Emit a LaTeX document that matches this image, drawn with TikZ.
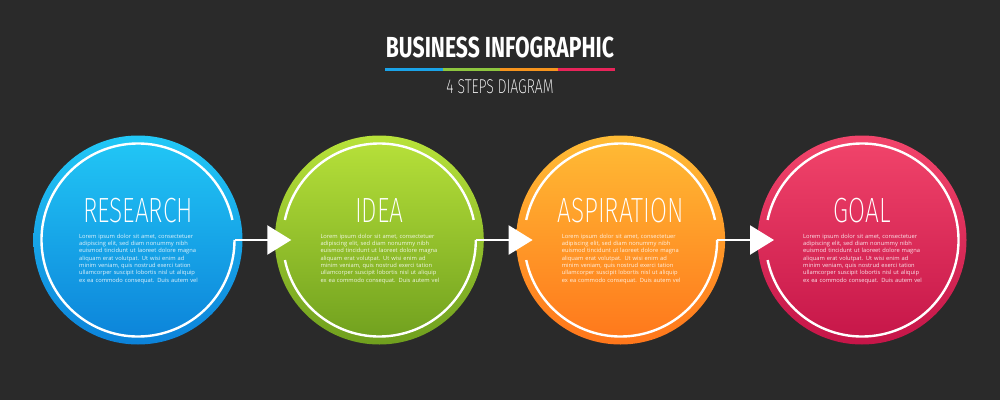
\documentclass[tikz,border=0pt]{standalone}
\usepackage{fontspec}
\setmainfont{Open Sans}
\newfontfamily\titlefont[FakeStretch=0.73]{Fira Sans}
\newfontfamily\thinfont[FakeStretch=0.70]{Fira Sans ExtraLight}
\usetikzlibrary{arrows.meta}
\definecolor{bg}{HTML}{2A2A2A}
\definecolor{blueT}{HTML}{22C8F6}
\definecolor{blueB}{HTML}{0C82D9}
\definecolor{greenT}{HTML}{B8E23A}
\definecolor{greenB}{HTML}{6F9F1E}
\definecolor{orangeT}{HTML}{FFBC35}
\definecolor{orangeB}{HTML}{FF761B}
\definecolor{redT}{HTML}{F2456B}
\definecolor{redB}{HTML}{C51548}
\definecolor{lineBlue}{HTML}{1AA3E8}
\definecolor{lineGreen}{HTML}{8DC63F}
\definecolor{lineOrange}{HTML}{F7941D}
\definecolor{lineRed}{HTML}{E8245A}
\begin{document}
\begin{tikzpicture}[x=1pt,y=1pt,
  stepcircle/.style={circle, minimum size=209pt, inner sep=0pt, draw=none},
  ring/.style={draw=white, line width=2.4pt},
  conn/.style={ring, -{Triangle[length=24pt,width=29pt]}},
  head/.style={text=white, font=\thinfont\fontsize{35}{35}\selectfont, inner sep=0pt, anchor=base},
  body/.style={text=white, opacity=0.88, font=\fontsize{5.75}{7.35}\selectfont, text width=125pt, align=left, inner sep=0pt, anchor=north west},
  uline/.style={line width=3pt}
]
\fill[bg] (0,0) rectangle (1000,400);
\useasboundingbox (0,0) rectangle (1000,400);

% title
\node[text=white, font=\titlefont\bfseries\fontsize{29}{29}\selectfont, inner sep=0pt, anchor=base] (title) at (500,342) {BUSINESS INFOGRAPHIC};
\draw[uline, lineBlue] (385,331) -- (442.5,331);
\draw[uline, lineGreen] (442.5,331) -- (500,331);
\draw[uline, lineOrange] (500,331) -- (557.5,331);
\draw[uline, lineRed] (557.5,331) -- (615,331);
\node[text=white, font=\thinfont\fontsize{20}{20}\selectfont, inner sep=0pt, anchor=base] (subtitle) at (500,307) {4 STEPS DIAGRAM};

% circles
\node[stepcircle, top color=blueT, bottom color=blueB] (c1) at (138,160) {};
\node[stepcircle, top color=greenT, bottom color=greenB] (c2) at (379.3,160) {};
\node[stepcircle, top color=orangeT, bottom color=orangeB] (c3) at (620.6,160) {};
\node[stepcircle, top color=redT, bottom color=redB] (c4) at (862,160) {};

% rings
\draw[ring] ([shift={(12:96.5)}]c1.center) arc[start angle=12, end angle=360, radius=96.5];
\draw[ring] ([shift={(12:96.5)}]c2.center) arc[start angle=12, end angle=168, radius=96.5];
\draw[ring] ([shift={(192:96.5)}]c2.center) arc[start angle=192, end angle=360, radius=96.5];
\draw[ring] ([shift={(12:96.5)}]c3.center) arc[start angle=12, end angle=168, radius=96.5];
\draw[ring] ([shift={(192:96.5)}]c3.center) arc[start angle=192, end angle=360, radius=96.5];
\draw[ring] ([shift={(192:96.5)}]c4.center) arc[start angle=192, end angle=528, radius=96.5];

% connectors
\draw[conn] ([shift={(0:96.5)}]c1.center) -- ([xshift=-88pt]c2.center);
\draw[conn] ([shift={(0:96.5)}]c2.center) -- ([xshift=-88pt]c3.center);
\draw[conn] ([shift={(0:96.5)}]c3.center) -- ([xshift=-88pt]c4.center);

% headings
\node[head] (h1) at (138,178) {RESEARCH};
\node[head] (h2) at (379.3,178) {IDEA};
\node[head] (h3) at (620.6,178) {ASPIRATION};
\node[head] (h4) at (862,178) {GOAL};

% body texts
\newcommand{\loremtext}{Lorem ipsum dolor sit amet, consectetuer\\adipiscing elit, sed diam nonummy nibh\\euismod tincidunt ut laoreet dolore magna\\aliquam erat volutpat. Ut wisi enim ad\\minim veniam, quis nostrud exerci tation\\ullamcorper suscipit lobortis nisl ut aliquip\\ex ea commodo consequat. Duis autem vel}
\node[body] (b1) at (79,166.5) {\loremtext};
\node[body] (b2) at (320.3,166.5) {\loremtext};
\node[body] (b3) at (561.6,166.5) {\loremtext};
\node[body] (b4) at (803,166.5) {\loremtext};
\end{tikzpicture}
\end{document}
